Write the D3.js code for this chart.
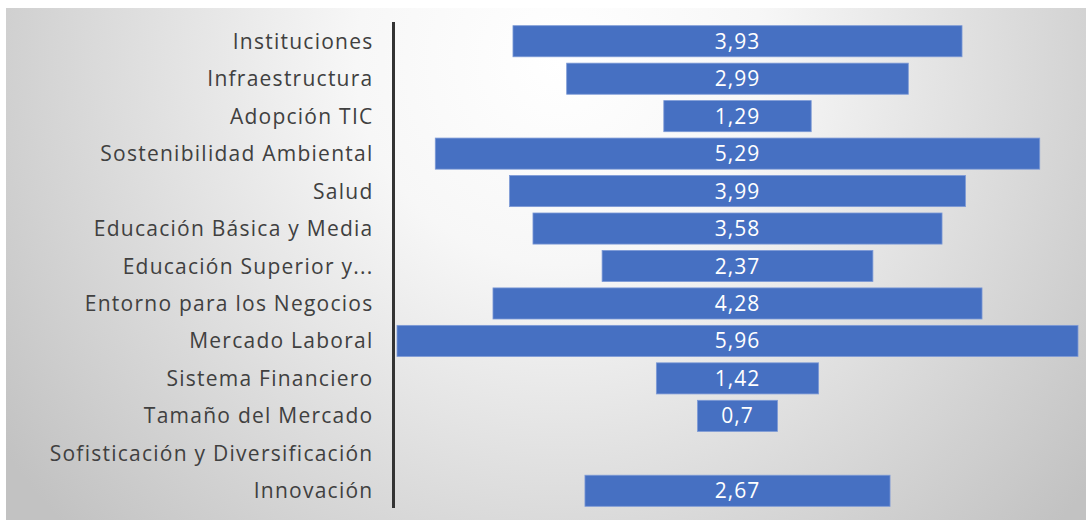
<!DOCTYPE html>
<html>
<head>
<meta charset="utf-8">
<script src="https://cdn.jsdelivr.net/npm/d3@7"></script>
<style>
  html, body { margin: 0; padding: 0; background: #ffffff; }
  svg { display: block; }
</style>
</head>
<body>
<svg id="chart" width="1086" height="520"></svg>
<script>
const categories = [
  "Instituciones",
  "Infraestructura",
  "Adopción TIC",
  "Sostenibilidad Ambiental",
  "Salud",
  "Educación Básica y Media",
  "Educación Superior y...",
  "Entorno para los Negocios",
  "Mercado Laboral",
  "Sistema Financiero",
  "Tamaño del Mercado",
  "Sofisticación y Diversificación",
  "Innovación"
];
const values = [3.93, 2.99, 1.29, 5.29, 3.99, 3.58, 2.37, 4.28, 5.96, 1.42, 0.7, null, 2.67];
const valueLabels = ["3,93", "2,99", "1,29", "5,29", "3,99", "3,58", "2,37", "4,28", "5,96", "1,42", "0,7", "", "2,67"];

const W = 1086, H = 520;
const svg = d3.select("#chart");
const defs = svg.append("defs");
const grad = defs.append("radialGradient")
  .attr("id", "bg").attr("gradientUnits", "userSpaceOnUse")
  .attr("cx", 560).attr("cy", 60).attr("r", 680);
grad.append("stop").attr("offset", 0).attr("stop-color", "#ffffff");
grad.append("stop").attr("offset", 0.3).attr("stop-color", "#f7f7f7");
grad.append("stop").attr("offset", 1).attr("stop-color", "#c2c2c2");

svg.append("rect").attr("x", 6).attr("y", 8).attr("width", W - 6).attr("height", H - 8)
  .attr("fill", "url(#bg)");

const axisX = 393.5;
const centerX = 737.5;
const maxV = d3.max(values);
const halfW = d3.scaleLinear().domain([0, maxV]).range([0, (1078 - 397) / 2]);

const y = d3.scaleBand().domain(categories).range([22.5, 509.5]).paddingInner(0.17).paddingOuter(0.085);

const rows = categories.map((c, i) => ({ c, v: values[i], l: valueLabels[i] })).filter(d => d.v != null);

// bars
svg.append("g").selectAll("rect")
  .data(rows)
  .join("rect")
  .attr("x", d => centerX - halfW(d.v))
  .attr("width", d => 2 * halfW(d.v))
  .attr("y", d => y(d.c))
  .attr("height", y.bandwidth())
  .attr("fill", "#4670c2")
  .attr("stroke", "#7d9ad6")
  .attr("stroke-width", 0.8);

// value labels
svg.append("g").selectAll("text")
  .data(rows)
  .join("text")
  .attr("x", centerX)
  .attr("y", d => y(d.c) + y.bandwidth() / 2)
  .attr("dy", "0.36em")
  .attr("text-anchor", "middle")
  .attr("fill", "#ffffff")
  .style("font-family", "'Open Sans', sans-serif")
  .style("font-size", "21px")
  .style("letter-spacing", "1px")
  .text(d => d.l);

// axis with category labels
const axis = d3.axisLeft(y).tickSize(0).tickPadding(20);
const gAxis = svg.append("g").attr("transform", `translate(${axisX},0)`).call(axis);
gAxis.select(".domain").attr("stroke", "#333333").attr("stroke-width", 3)
  .attr("d", `M0,22V508`);
gAxis.selectAll(".tick text")
  .attr("fill", "#404040")
  .attr("dy", "0.36em")
  .style("font-family", "'Open Sans', sans-serif")
  .style("font-size", "21px")
  .style("letter-spacing", "1.25px");
</script>
</body>
</html>
